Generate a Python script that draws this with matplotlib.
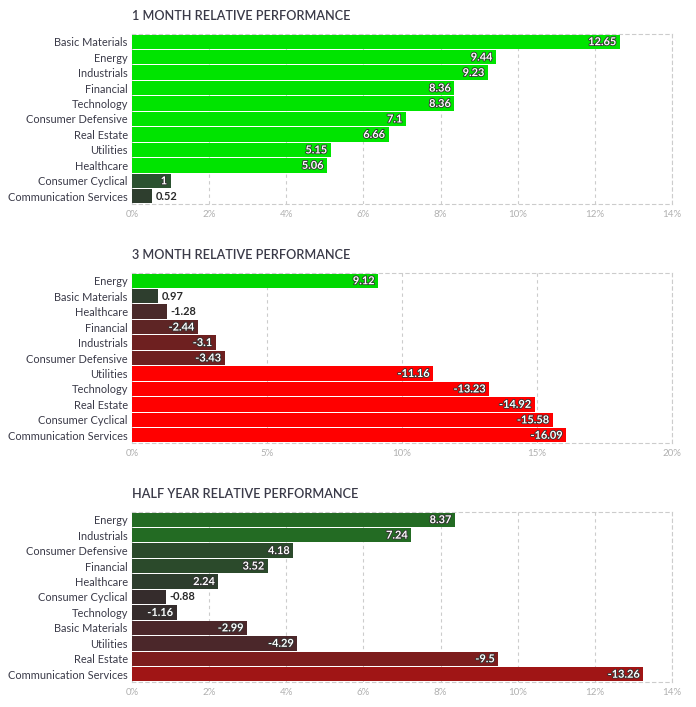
import matplotlib
matplotlib.use("Agg")
import matplotlib.pyplot as plt
import matplotlib.patheffects as pe

plt.rcParams["font.family"] = ["Lato", "DejaVu Sans"]

TITLES = ["1 MONTH RELATIVE PERFORMANCE",
          "3 MONTH RELATIVE PERFORMANCE",
          "HALF YEAR RELATIVE PERFORMANCE"]

SECTORS_1M = ["Basic Materials", "Energy", "Industrials", "Financial", "Technology",
              "Consumer Defensive", "Real Estate", "Utilities", "Healthcare",
              "Consumer Cyclical", "Communication Services"]
VALUES_1M = [12.65, 9.44, 9.23, 8.36, 8.36, 7.1, 6.66, 5.15, 5.06, 1, 0.52]

SECTORS_3M = ["Energy", "Basic Materials", "Healthcare", "Financial", "Industrials",
              "Consumer Defensive", "Utilities", "Technology", "Real Estate",
              "Consumer Cyclical", "Communication Services"]
VALUES_3M = [9.12, 0.97, -1.28, -2.44, -3.1, -3.43, -11.16, -13.23, -14.92, -15.58, -16.09]

SECTORS_HY = ["Energy", "Industrials", "Consumer Defensive", "Financial", "Healthcare",
              "Consumer Cyclical", "Technology", "Basic Materials", "Utilities",
              "Real Estate", "Communication Services"]
VALUES_HY = [8.37, 7.24, 4.18, 3.52, 2.24, -0.88, -1.16, -2.99, -4.29, -9.5, -13.26]

TICKS_1M = [0, 2, 4, 6, 8, 10, 12, 14]
TICKS_3M = [0, 5, 10, 15, 20]
TICKS_HY = [0, 2, 4, 6, 8, 10, 12, 14]

# bar colours (finviz style heat scale)
COLORS_1M = ["#00e400"] * 9 + ["#2b5230", "#2e3e2e"]
COLORS_3M = ["#00d800", "#2e3e2e", "#4a2a2a", "#5e2525", "#6e2020", "#6e2020"] + ["#ff0000"] * 5
COLORS_HY = ["#236b23", "#236b23", "#2b4a2b", "#2b4a2b", "#2d3d2d", "#352c2c",
             "#352c2c", "#4b272a", "#4b272a", "#7d1d1d", "#a01515"]

panels = [
    (SECTORS_1M, VALUES_1M, TICKS_1M, COLORS_1M, 0.7115),
    (SECTORS_3M, VALUES_3M, TICKS_3M, COLORS_3M, 0.3734),
    (SECTORS_HY, VALUES_HY, TICKS_HY, COLORS_HY, 0.0354),
]

fig = plt.figure(figsize=(6.96, 7.07), dpi=100)
ax_w = 540 / 696
ax_h = 170 / 707

for title, (sectors, values, ticks, colors, bottom) in zip(TITLES, panels):
    ax = fig.add_axes([132 / 696, bottom, ax_w, ax_h])
    xmax = ticks[-1]
    widths = [abs(v) for v in values]
    ypos = list(range(len(sectors)))
    ax.barh(ypos, widths, height=0.93, color=colors, zorder=3)
    ax.set_xlim(0, xmax)
    ax.set_ylim(len(sectors) - 0.5, -0.5)
    ax.set_yticks(ypos)
    ax.set_yticklabels(sectors, fontsize=7.9, color="#3a3a48")
    ax.set_xticks(ticks)
    ax.set_xticklabels([f"{t}%" for t in ticks], fontsize=7, color="#b0b0b0")
    ax.tick_params(length=0, pad=3)
    ax.tick_params(axis="x", pad=4)
    ax.grid(axis="x", linestyle=(0, (3, 3)), color="#cccccc", linewidth=0.8, zorder=0)
    for side in ["top", "bottom", "right", "left"]:
        ax.spines[side].set_linestyle((0, (3, 3)))
        ax.spines[side].set_color("#cccccc")
        ax.spines[side].set_linewidth(0.8)
    px_per_unit = 540 / xmax
    for y, v, w in zip(ypos, values, widths):
        label = f"{v:g}"
        if w * px_per_unit > 36:
            ax.annotate(label, (w, y), xytext=(-2.5, 0), textcoords="offset points",
                        ha="right", va="center", fontsize=7.9, fontweight="bold",
                        color="white", zorder=5,
                        path_effects=[pe.withStroke(linewidth=1.2, foreground="#333333")])
        else:
            ax.annotate(label, (w, y), xytext=(2.5, 0), textcoords="offset points",
                        ha="left", va="center", fontsize=7.9, fontweight="bold",
                        color="#2a2a2a", zorder=5)
    ax.text(0, 1.0 + 18 / 170, title, transform=ax.transAxes, ha="left", va="center",
            fontsize=9.1, color="#3a3a48", fontweight="semibold")

fig.savefig("out.png", dpi=100)
